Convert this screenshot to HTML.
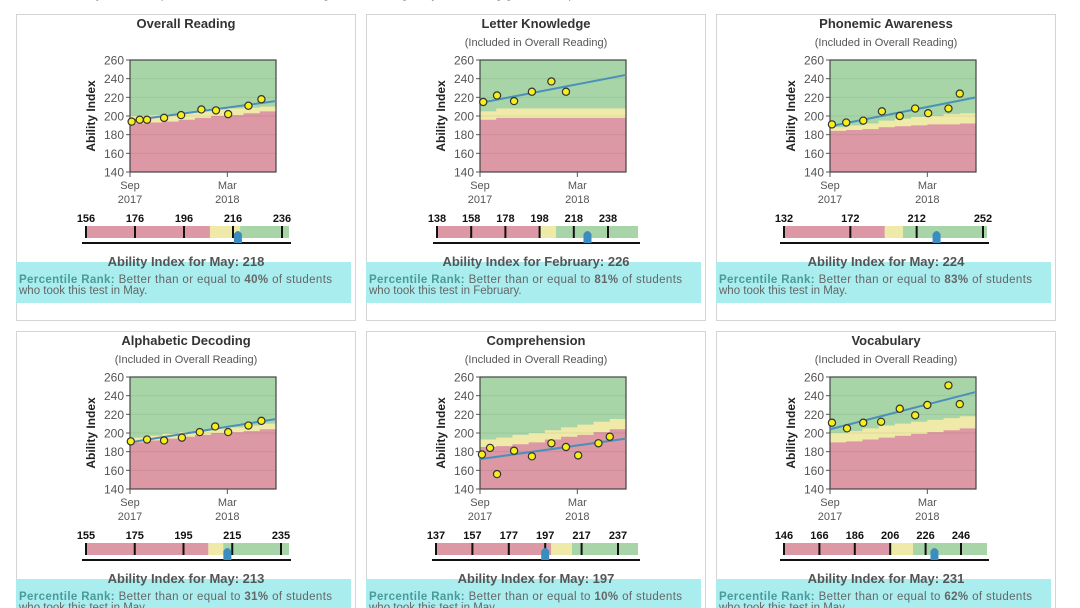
<!DOCTYPE html>
<html><head><meta charset="utf-8"><style>
html,body{margin:0;padding:0;background:#fff;width:1080px;height:608px;overflow:hidden}
svg{display:block;font-family:"Liberation Sans",Arial,sans-serif}
</style></head><body>
<svg id="s" width="1080" height="608" viewBox="0 0 1080 608" xmlns="http://www.w3.org/2000/svg"></svg>
<script>
// ---- data ----
const panelTitles=["Overall Reading","Letter Knowledge","Phonemic Awareness","Alphabetic Decoding","Comprehension","Vocabulary"];
const testMonths=[
 [0.1,0.6,1.05,2.1,3.15,4.4,5.3,6.05,7.3,8.1],
 [0.2,1.05,2.1,3.2,4.4,5.3],
 [0.12,1,2.05,3.2,4.3,5.25,6.05,7.3,8.0],
 [0.05,1.05,2.1,3.2,4.3,5.25,6.05,7.3,8.1],
 [0.12,0.62,1.05,2.1,3.2,4.4,5.3,6.05,7.3,8.0],
 [0.12,1.05,2.05,3.15,4.3,5.25,6,7.3,8.0]];
const testScores=[
 [194,196,196,198,201,207,206,202,211,218],
 [215,222,216,226,237,226],
 [191,193,195,205,200,208,203,208,224],
 [191,193,192,195,201,207,201,208,213],
 [177,184,156,181,175,189,185,176,189,196],
 [211,205,211,212,226,219,230,251,231]];
const trendStart=[195,214,189,190,172,204];
const trendEnd=[216,244,220,215,194,244];
// band boundaries at months 0..9
const redTop=[
 [192,193,194,196,198,200,201,203,205,206],
 [196,198,198,198,198,198,198,198,198,198],
 [184,185,186,188,189,190,191,191,192,192],
 [190,192,194,196,198,200,201,202,204,205],
 [185,186,188,190,193,196,198,201,204,205],
 [190,191,193,195,197,199,201,203,205,206]];
const yellowTop=[
 [200,201,202,204,205,207,208,209,210,211],
 [205,208,208,208,208,208,208,208,208,208],
 [188,190,192,195,197,199,200,202,203,203],
 [195,197,199,201,203,205,206,208,210,211],
 [193,195,198,200,203,206,209,212,215,218],
 [200,202,205,208,210,212,214,216,218,220]];
const scaleTicks=[[156,176,196,216,236],[138,158,178,198,218,238],[132,172,212,252],[155,175,195,215,235],[137,157,177,197,217,237],[146,166,186,206,226,246]];
const redEnd=[206.6,197.7,192.8,205.2,200.2,205.9];
const yellowEnd=[218.9,207.6,203.7,211.3,211.7,218.9];
const abilityMonth=["May","February","May","May","May","May"];
const abilityValue=[218,226,224,213,197,231];
const percentile=[40,81,83,31,10,62];
const yTicks=[140,160,180,200,220,240,260];
// ---- layout ----
const scaleStart=[86,87,84,86,86,84];
const scaleEndX=[289,288,287,289,288,287];
const NS="http://www.w3.org/2000/svg";
const svg=document.getElementById('s');
function el(tag,attrs,parent,text){const e=document.createElementNS(NS,tag);for(const k in attrs)e.setAttribute(k,attrs[k]);if(text!=null)e.textContent=text;(parent||svg).appendChild(e);return e;}

const topTxt=el('text',{x:70,y:-2,'font-size':12,fill:'#444'},svg,"Ability index and percentile rank for each reading subtest during the year showing growth and performance");



for(let p=0;p<6;p++){
 const ox=(p%3)*350, oy=Math.floor(p/3)*317;
 const g=el('g',{});
 
 
 const box=el('rect',{x:16.5+ox,y:14.5+oy,width:339,height:306,fill:'#fff',stroke:'#d4d4d4'},g);
 
 
 const t=el('text',{x:186+ox,y:28+oy,'text-anchor':'middle','font-size':13,'font-weight':'bold',fill:'#333'},g,panelTitles[p]);
 
 
 if(p>0){const st=el('text',{x:186+ox,y:46+oy,'text-anchor':'middle','font-size':11,fill:'#555'},g,"(Included in Overall Reading)");
  
  }
 const L=130+ox,T=60+oy,W=146,H=112;
 const xs=m=>L+m*W/9, ys=v=>T+H-(v-140)/120*H;
 const bg=el('rect',{x:L,y:T,width:W,height:H,fill:'#a8d5a8'},g);
 
 
 function band(arr,color,name){
  let d='M'+L+','+(T+H);
  for(let i=0;i<9;i++){d+=' L'+xs(i)+','+ys(arr[p][i])+' L'+xs(i+1)+','+ys(arr[p][i]);}
  d+=' L'+(L+W)+','+(T+H)+'Z';
  const b=el('path',{d:d,fill:color},g);
  
  
 }
 band(yellowTop,'#f0eaa8','on-watch-band');
 band(redTop,'#dc98a4','below-band');
 for(const v of yTicks){
  if(v>140&&v<260)el('line',{x1:L,x2:L+W,y1:ys(v),y2:ys(v),stroke:'rgba(0,0,0,0.07)'},g);
  el('line',{x1:L-4,x2:L,y1:ys(v),y2:ys(v),stroke:'#555'},g);
  const yl=el('text',{x:L-6,y:ys(v)+4.5,'text-anchor':'end','font-size':12,fill:'#555'},g,v);
  
  
 }
 el('rect',{x:L,y:T,width:W,height:H,fill:'none',stroke:'#444','stroke-width':1.2},g);
 const ya=el('text',{x:0,y:0,transform:`translate(${95+ox},${T+H/2}) rotate(-90)`,'text-anchor':'middle','font-size':12,'font-weight':'bold',fill:'#222'},g,"Ability Index");
 
 
 [[0,'Sep','2017'],[6,'Mar','2018']].forEach(([m,a,b])=>{
  el('line',{x1:xs(m),x2:xs(m),y1:T+H,y2:T+H+5,stroke:'#555'},g);
  const xl=el('text',{x:xs(m),y:T+H+17,'text-anchor':'middle','font-size':11,fill:'#555'},g,a);
  
  
  const xl2=el('text',{x:xs(m),y:T+H+31,'text-anchor':'middle','font-size':11,fill:'#555'},g,b);
  
  
 });
 const tr=el('line',{x1:xs(0),y1:ys(trendStart[p]),x2:xs(9),y2:ys(trendEnd[p]),stroke:'#4a90b8','stroke-width':2},g);
 
 
 for(let i=0;i<testScores[p].length;i++){
  const c=el('circle',{cx:xs(testMonths[p][i]),cy:ys(testScores[p][i]),r:3.6,fill:'#f5ef1a',stroke:'#333','stroke-width':1.2},g);
  
  
 }
 const ticks=scaleTicks[p], s0=scaleStart[p]+ox, se=scaleEndX[p]+ox;
 const last=ticks[ticks.length-1], lastX=(p==1?258:p==2?283:p==4?268:p==5?261:(p==0?282:281))+ox;
 const ppu=(lastX-s0)/(last-ticks[0]);
 const sx=v=>s0+(v-ticks[0])*ppu;
 const by=226+oy;
 const rb=el('rect',{x:s0,y:by,width:sx(redEnd[p])-s0,height:12,fill:'#dc98a4'},g);
 
 
 const yb=el('rect',{x:sx(redEnd[p]),y:by,width:sx(yellowEnd[p])-sx(redEnd[p]),height:12,fill:'#f0eaa8'},g);
 
 
 const gb=el('rect',{x:sx(yellowEnd[p]),y:by,width:se-sx(yellowEnd[p]),height:12,fill:'#a8d5a8'},g);
 
 
 for(const v of ticks){
  el('line',{x1:sx(v),x2:sx(v),y1:by,y2:by+12,stroke:'#111','stroke-width':2},g);
  const tl=el('text',{x:sx(v),y:by-4,'text-anchor':'middle','font-size':11,'font-weight':'bold',fill:'#111'},g,v);
  
  
 }
 el('line',{x1:s0-4,x2:se+2,y1:by+17,y2:by+17,stroke:'#111','stroke-width':2},g);
 const mx=sx(abilityValue[p]);
 const mk=el('path',{d:`M${mx-4},${by+17} L${mx-4},${by+8} Q${mx},${by+2} ${mx+4},${by+8} L${mx+4},${by+17} Z`,fill:'#3b8dc0'},g);
 
 
 const cy=el('rect',{x:16+ox,y:262+oy,width:335,height:41,fill:'#a9edef'},g);
 
 
 const at=el('text',{x:186+ox,y:266+oy,'text-anchor':'middle','font-size':13,'font-weight':'bold',fill:'#555'},g,"Ability Index for "+abilityMonth[p]+": "+abilityValue[p]);
 
 
 const pt=el('text',{x:19+ox,y:283+oy,'font-size':11.5,fill:'#666',textLength:313,lengthAdjust:'spacing'},g);
 
 
 el('tspan',{'font-weight':'bold',fill:'#4a9a9a'},pt,"Percentile Rank:");
 el('tspan',{},pt," Better than or equal to ");
 el('tspan',{'font-weight':'bold'},pt,percentile[p]+"%");
 el('tspan',{},pt," of students");
 const pt2=el('text',{x:19+ox,y:294+oy,'font-size':11.5,fill:'#666'},g,"who took this test in "+abilityMonth[p]+".");
 
 
}
</script>
</body></html>
